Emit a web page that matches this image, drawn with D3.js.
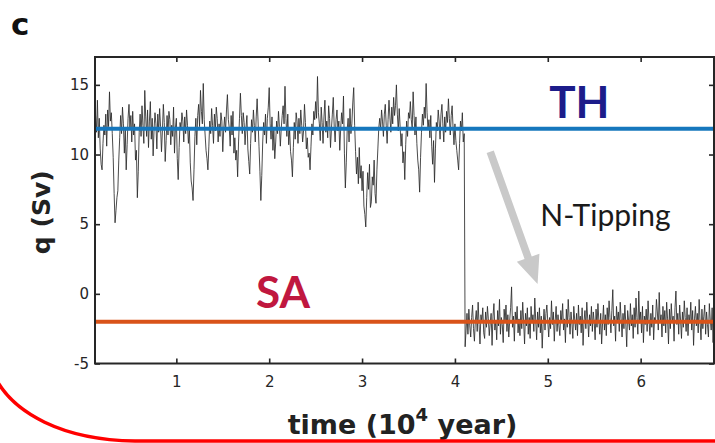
<!DOCTYPE html>
<html>
<head>
<meta charset="utf-8">
<script src="https://cdn.jsdelivr.net/npm/d3@7/dist/d3.min.js"></script>
<style>
  body { margin: 0; background: #fff; }
  svg { display: block; }
</style>
</head>
<body>
<svg id="chart" width="715" height="443"></svg>
<script>
// ---- data ---------------------------------------------------------------
const xTicks = [1, 2, 3, 4, 5, 6];
const yTicks = [-5, 0, 5, 10, 15];

// equilibrium levels (Sv)
const thLevel = 11.85;
const saLevel = -2.0;

// AMOC strength q (Sv), sampled every 0.01 (10^4 yr)
const tStep = 0.01;
const thStart = 0.13;   // thermally driven state, before the transition
const qTH = [
  12.8, 11.6, 13.9, 11.2, 12.6, 10.4, 9.3, 8.9, 10.8, 12.1,
  11.4, 12.9, 10.6, 13.2, 12.0, 14.5, 12.4, 13.0, 11.5, 9.8,
  7.2, 5.1, 6.0, 6.9, 7.4, 9.6, 11.2, 12.8, 11.5, 13.4,
  12.2, 10.1, 11.8, 8.9, 10.7, 12.6, 13.6, 11.9, 12.8, 10.9,
  13.1, 11.4, 12.2, 9.6, 10.3, 6.9, 8.8, 11.6, 12.9, 11.3,
  13.5, 12.1, 10.8, 14.6, 12.7, 11.3, 13.2, 10.5, 12.4, 13.8,
  11.1, 12.6, 9.9, 11.8, 13.0, 12.2, 10.4, 12.9, 11.6, 13.3,
  12.0, 10.2, 11.7, 13.6, 12.3, 9.5, 11.0, 12.8, 11.4, 13.1,
  12.5, 10.7, 12.1, 11.3, 13.4, 10.1, 11.9, 12.6, 9.7, 8.2,
  10.5, 12.3, 11.8, 13.0, 12.4, 10.9, 12.7, 11.5, 13.2, 12.1,
  10.8, 11.9, 9.4, 8.1, 7.6, 6.7, 8.9, 11.3, 12.6, 10.7,
  12.8, 13.6, 12.0, 14.6, 13.1, 12.2, 15.1, 12.5, 11.4, 10.3,
  9.7, 8.9, 10.6, 12.4, 11.5, 13.3, 12.1, 10.8, 12.9, 11.7,
  13.4, 12.6, 10.9, 12.2, 11.3, 13.0, 12.4, 10.2, 11.8, 12.7,
  11.6, 13.2, 14.3, 12.5, 11.9, 10.6, 12.8, 11.4, 13.1, 10.1,
  11.2, 9.6, 10.3, 8.4, 10.9, 12.6, 14.4, 12.8, 11.5, 13.0,
  12.3, 10.7, 11.9, 12.8, 10.4, 9.5, 8.6, 10.8, 12.5, 11.6,
  13.2, 12.1, 10.9, 12.7, 14.0, 12.4, 10.6, 8.8, 6.7, 8.5,
  10.9, 12.3, 11.4, 12.9, 10.8, 12.6, 13.4, 14.8, 12.2, 11.1,
  12.7, 10.3, 11.8, 9.7, 10.9, 12.4, 11.5, 13.1, 12.0, 10.6,
  11.9, 12.8, 13.5, 12.2, 14.9, 12.6, 11.3, 12.9, 10.7, 11.8,
  10.2, 9.6, 8.4, 10.5, 12.3, 11.1, 13.0, 12.4, 10.8, 12.6,
  11.5, 13.2, 12.1, 10.9, 11.7, 13.6, 12.3, 10.4, 11.2, 9.8,
  10.1, 8.9, 10.6, 12.2, 11.4, 13.1, 12.5, 13.8, 12.6, 15.6,
  13.0, 12.2, 11.0, 13.4, 12.3, 10.8, 12.7, 13.9, 11.6, 12.4,
  11.2, 13.5, 12.6, 10.5, 11.8, 12.9, 14.1, 12.0, 10.9, 12.5,
  13.2, 11.7, 12.4, 10.3, 11.9, 13.0, 12.2, 14.2, 10.1, 7.6,
  9.4, 11.8, 12.6, 10.9, 13.3, 11.5, 12.2, 13.7, 14.8, 12.1,
  10.2, 8.6, 9.8, 7.9, 10.5, 8.3, 9.2, 7.4, 8.8, 6.3,
  5.7, 4.8, 6.9, 8.7, 7.5, 9.3, 6.2, 6.6, 8.4, 7.8,
  9.6, 7.2, 6.5, 8.9, 10.4, 11.9, 12.6, 11.8, 13.2, 12.4,
  11.3, 12.9, 13.6, 12.1, 10.8, 12.5, 13.9, 12.7, 11.6, 13.4,
  12.2, 14.1, 12.8, 13.5, 15.0, 12.9, 11.7, 13.3, 12.0, 10.6,
  11.5, 9.4, 10.2, 8.2, 10.7, 12.4, 11.3, 13.0, 12.6, 13.8,
  12.5, 11.9, 14.5, 12.8, 11.4, 12.7, 10.8, 9.6, 8.9, 7.3,
  9.8, 11.6, 12.9, 12.1, 13.4, 12.6, 15.1, 13.0, 11.8, 12.5,
  11.2, 12.8, 10.6, 9.3, 11.0, 8.0, 10.4, 12.3, 11.7, 13.2,
  12.4, 11.1, 12.9, 13.6, 12.2, 10.9, 12.7, 11.6, 13.1, 12.3,
  14.0, 12.6, 11.4, 12.8, 13.5, 11.9, 10.7, 12.2, 11.0, 10.3,
  9.6, 8.9, 10.8, 12.4, 11.7, 13.0, 10.9, 11.5
];

const saStart = 4.11;   // salinity driven state, after the transition
const qSA = [
  -3.8, -2.6, -1.4, -2.9, -1.1, -2.3, -3.1, -1.7, -0.8, -2.5,
  -3.4, -1.9, -1.2, -2.7, -0.6, -2.2, -3.6, -1.5, -2.0, -1.0,
  -2.8, -3.2, -1.3, -2.4, -0.9, -1.8, -3.0, -2.1, -1.4, -3.7,
  -1.6, -0.7, -2.6, -1.9, -3.3, -1.2, -2.3, -0.4, -2.9, -1.7,
  -2.2, -3.5, -1.1, -2.0, -0.8, -2.7, -1.5, -3.1, -1.9, -1.0,
  0.5, -2.4, -1.6, -3.4, -1.3, -2.1, -0.9, -2.8, -1.8, -3.0,
  -1.2, -2.5, -0.6, -2.0, -3.6, -1.4, -2.3, -1.0, -2.9, -1.7,
  -3.2, -0.9, -2.1, -1.5, -2.7, -0.3, -1.9, -3.3, -1.3, -2.4,
  -1.0, -2.8, -1.6, -3.9, -2.2, -1.1, -2.6, -1.4, -0.8, -2.0,
  -3.1, -1.7, -2.5, -0.5, -2.2, -1.3, -3.4, -1.9, -0.9, -2.7,
  -1.5, -2.3, -3.0, -1.2, -2.0, -0.7, -2.6, -1.8, -3.5, -1.1,
  -2.4, -0.4, -1.7, -2.9, -1.3, -2.1, -3.2, -0.9, -1.9, -2.6,
  -1.4, -3.0, -0.8, -2.2, -1.6, -2.8, -1.0, -3.7, -2.0, -1.2,
  -2.5, -0.6, -1.8, -3.1, -1.5, -2.3, -0.9, -2.7, -1.3, -2.0,
  -3.3, -1.1, -2.4, -0.7, -1.9, -2.9, -1.4, -3.6, -2.1, -0.8,
  -2.6, -1.5, -3.0, -1.0, -2.2, -0.5, -1.7, -2.8, -1.2, 0.3,
  -2.3, -1.6, -3.4, -0.9, -2.0, -1.3, -2.7, -0.6, -1.8, -3.1,
  -1.4, -2.5, -0.8, -2.1, -3.8, -1.2, -1.9, -2.6, -0.7, -2.3,
  -1.5, -3.2, -1.0, -2.4, -0.3, -1.7, -2.9, 0.2, -2.1, -1.3,
  -2.8, -0.9, -3.5, -1.6, -2.2, -1.1, -2.7, -0.5, -1.9, -3.0,
  -1.4, -2.4, -0.8, -3.3, -1.7, -2.1, -0.4, -1.3, -2.6, 0.1,
  -2.0, -1.5, -3.1, -0.9, -2.3, -1.2, -2.8, -0.6, -1.8, -3.6,
  -1.1, -2.5, -0.7, -2.0, -1.6, -3.4, -1.0, 0.2, -2.2, -1.4,
  -2.9, -0.8, -1.9, -3.2, -1.3, -2.4, -0.5, -1.7, -2.7, -1.0,
  -3.0, -1.5, -2.1, -0.6, -2.6, -1.2, -3.7, -1.8, -0.9, -2.3,
  -1.4, -2.8, -0.4, -2.0, -3.3, -1.1, -2.5, -1.6, -0.8, -2.9,
  -1.3, -2.2, -3.1, -0.7, -1.9, -2.6, -1.0, -3.5, -1.7, -2.4
];

// annotation anchors in data units (t, q)
const arrowFrom = [4.38, 10.2];
const arrowTo = [4.89, 0.7];
const labelTH = [5.34, 12.6];
const labelSA = [2.15, -1.0];
const labelTip = [4.92, 4.9];

// ---- drawing --------------------------------------------------------------
const svg = d3.select("#chart");
const box = { left: 95, right: 714, top: 57, bottom: 363.5 };

const x = d3.scaleLinear().domain([0.124, 6.79]).range([box.left, box.right]);
const y = d3.scaleLinear().domain([-5, 17]).range([box.bottom, box.top]);

const axisColor = "#262626";
const tickFont = "'DejaVu Sans', sans-serif";
const plainNumber = d => String(d);   // hyphen-minus, as in the tick labels

// panel letter
svg.append("text")
  .attr("x", 11).attr("y", 35)
  .attr("font-family", tickFont).attr("font-weight", "bold")
  .attr("font-size", 31).attr("fill", "#111")
  .text("c");

svg.append("defs").append("clipPath").attr("id", "plotClip")
  .append("rect")
  .attr("x", box.left).attr("y", box.top)
  .attr("width", box.right - box.left).attr("height", box.bottom - box.top);

const plot = svg.append("g").attr("clip-path", "url(#plotClip)");

const series = qTH.map((q, i) => ({ t: thStart + i * tStep, q }))
  .concat(qSA.map((q, i) => ({ t: saStart + i * tStep, q })));

const line = d3.line().x(d => x(d.t)).y(d => y(d.q));

plot.append("path")
  .datum(series)
  .attr("d", line)
  .attr("fill", "none")
  .attr("stroke", "#2a2a2a")
  .attr("stroke-width", 0.85)
  .attr("stroke-linejoin", "round");

// equilibrium levels
plot.append("line")
  .attr("x1", x.range()[0]).attr("x2", x.range()[1])
  .attr("y1", y(thLevel)).attr("y2", y(thLevel))
  .attr("stroke", "#1677bd").attr("stroke-width", 4);

plot.append("line")
  .attr("x1", x.range()[0]).attr("x2", x.range()[1])
  .attr("y1", y(saLevel)).attr("y2", y(saLevel))
  .attr("stroke", "#d95319").attr("stroke-width", 4);

// axes (ticks point inward, box on all sides)
function styleAxis(g) {
  g.select(".domain").remove();
  g.selectAll(".tick line").attr("stroke", axisColor).attr("stroke-width", 1.6);
  g.selectAll(".tick text")
    .attr("fill", axisColor)
    .attr("font-family", tickFont)
    .attr("font-size", 15);
}

svg.append("g")
  .attr("transform", `translate(0,${box.bottom})`)
  .call(d3.axisBottom(x).tickValues(xTicks).tickSize(-5).tickPadding(13).tickFormat(plainNumber))
  .call(styleAxis);

svg.append("g")
  .attr("transform", `translate(0,${box.top})`)
  .call(d3.axisTop(x).tickValues(xTicks).tickSize(-5).tickFormat(""))
  .call(styleAxis);

svg.append("g")
  .attr("transform", `translate(${box.left},0)`)
  .call(d3.axisLeft(y).tickValues(yTicks).tickSize(-5).tickPadding(6).tickFormat(plainNumber))
  .call(styleAxis);

svg.append("g")
  .attr("transform", `translate(${box.right},0)`)
  .call(d3.axisRight(y).tickValues(yTicks).tickSize(-5).tickFormat(""))
  .call(styleAxis);

svg.append("rect")
  .attr("x", box.left).attr("y", box.top)
  .attr("width", box.right - box.left).attr("height", box.bottom - box.top)
  .attr("fill", "none").attr("stroke", axisColor).attr("stroke-width", 2);

// axis titles
svg.append("text")
  .attr("transform", `translate(50,${(box.top + box.bottom) / 2 + 2}) rotate(-90)`)
  .attr("text-anchor", "middle")
  .attr("font-family", tickFont).attr("font-weight", "bold")
  .attr("font-size", 25).attr("fill", "#222")
  .text("q (Sv)");

const xTitle = svg.append("text")
  .attr("x", (box.left + box.right) / 2 - 2).attr("y", 434)
  .attr("text-anchor", "middle")
  .attr("font-family", tickFont).attr("font-weight", "bold")
  .attr("font-size", 27).attr("fill", "#222");
xTitle.append("tspan").text("time (10");
xTitle.append("tspan").attr("dy", -13).attr("font-size", 18).text("4");
xTitle.append("tspan").attr("dy", 13).text(" year)");

// state labels
svg.append("text")
  .attr("x", x(labelTH[0])).attr("y", y(labelTH[1]))
  .attr("text-anchor", "middle")
  .attr("font-family", "Lato, sans-serif").attr("font-weight", "bold")
  .attr("font-size", 44).attr("fill", "#1c1c8a")
  .text("TH");

svg.append("text")
  .attr("x", x(labelSA[0])).attr("y", y(labelSA[1]))
  .attr("text-anchor", "middle")
  .attr("font-family", "Lato, sans-serif").attr("font-weight", "bold")
  .attr("font-size", 44).attr("fill", "#c0173f")
  .text("SA");

svg.append("text")
  .attr("x", x(labelTip[0])).attr("y", y(labelTip[1]))
  .attr("font-family", "Lato, sans-serif")
  .attr("font-size", 30).attr("fill", "#1a1a1a")
  .text("N-Tipping");

// transition arrow
(function drawArrow() {
  const x0 = x(arrowFrom[0]), y0 = y(arrowFrom[1]);
  const x1 = x(arrowTo[0]), y1 = y(arrowTo[1]);
  const len = Math.hypot(x1 - x0, y1 - y0);
  const ux = (x1 - x0) / len, uy = (y1 - y0) / len;
  const px = -uy, py = ux;
  const shaft = 3.8, headW = 12, headL = 28;
  const bx = x1 - ux * headL, by = y1 - uy * headL;
  const pts = [
    [x0 + px * shaft, y0 + py * shaft],
    [bx + px * shaft, by + py * shaft],
    [bx + px * headW, by + py * headW],
    [x1, y1],
    [bx - px * headW, by - py * headW],
    [bx - px * shaft, by - py * shaft],
    [x0 - px * shaft, y0 - py * shaft]
  ];
  svg.append("polygon")
    .attr("points", pts.map(p => p.join(",")).join(" "))
    .attr("fill", "#c9c9c9");
})();

// frame edge running along the bottom
svg.append("path")
  .attr("d", "M -3 381 C 15 412, 60 440, 135 441 L 720 441")
  .attr("fill", "none")
  .attr("stroke", "#ff0000")
  .attr("stroke-width", 3.5);
</script>
</body>
</html>
